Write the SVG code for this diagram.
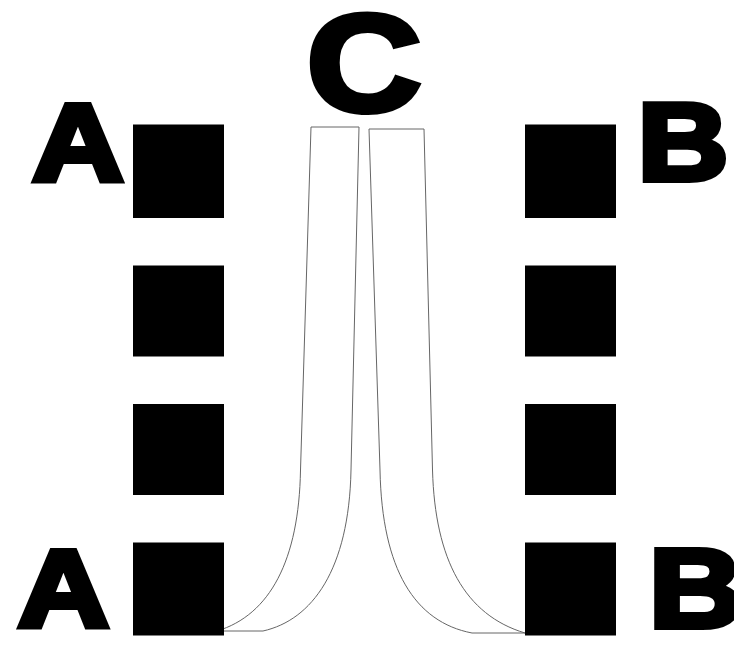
<svg xmlns="http://www.w3.org/2000/svg" width="734" height="646" viewBox="0 0 734 646">
<style>
.sq{fill:#000;}
.lbl{font-family:"Liberation Sans",Arial,sans-serif;font-weight:bold;fill:#000;stroke:#000;stroke-width:6;stroke-linejoin:miter;text-anchor:middle;}
.lane{fill:#fff;stroke:#666;stroke-width:1;}
</style>
<rect width="734" height="646" fill="#fff"/>
<g id="connectors">
<path class="lane" d="M311,127 L359,127 L351,470 C349,570 312,620 263,631 L217,631 C270,615 299,560 300.5,470 Z"/>
<path class="lane" d="M369,129 L424,129 L432.5,470 C435,560 465,615 525,633 L472,633 C415,622 382,570 380,470 Z"/>
</g>
<g id="left-column">
<rect class="sq" x="133" y="124.5" width="91" height="93.5"/>
<rect class="sq" x="133" y="265.5" width="91" height="91"/>
<rect class="sq" x="133" y="404" width="91" height="91"/>
<rect class="sq" x="133" y="542.5" width="91" height="93"/>
</g>
<g id="right-column">
<rect class="sq" x="525" y="124.5" width="91" height="93.5"/>
<rect class="sq" x="525" y="265.5" width="91" height="91"/>
<rect class="sq" x="525" y="404" width="91" height="91"/>
<rect class="sq" x="525" y="542.5" width="91" height="93"/>
</g>
<g id="label-a-top"><text class="lbl" font-size="110" transform="translate(78,179.5) scale(1.15,1)">A</text></g>
<g id="label-a-bottom"><text class="lbl" font-size="109" transform="translate(63.5,626) scale(1.16,1)">A</text></g>
<g id="label-b-top"><text class="lbl" font-size="110" transform="translate(683,179.5) scale(1.14,1)">B</text></g>
<g id="label-b-bottom"><text class="lbl" font-size="112" transform="translate(696,627) scale(1.16,1)">B</text></g>
<g id="label-c"><text class="lbl" font-size="138" stroke-width="8" transform="translate(364,111) scale(1.15,1)">C</text></g>
</svg>
